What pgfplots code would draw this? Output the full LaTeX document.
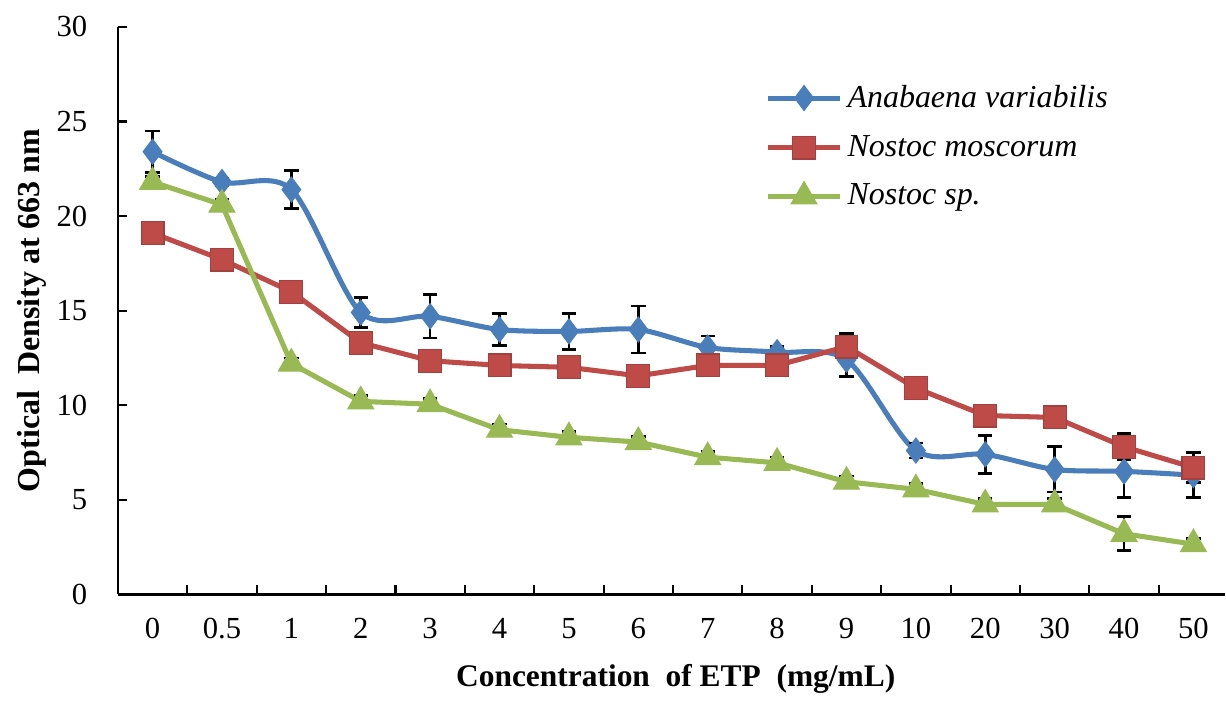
\documentclass[border=0pt]{standalone}
\usepackage{fontspec}
\setmainfont{Liberation Serif}
\usepackage{pgfplots}
\usepackage{pgfplotstable}
\pgfplotsset{compat=1.18}
\definecolor{cblue}{HTML}{4A7EBB}
\definecolor{cred}{HTML}{BE4B48}
\definecolor{cgreen}{HTML}{98B954}

\pgfplotstableread{
x y e
0 23.4 1.1
1 21.8 0.2
2 21.4 1.0
3 14.9 0.8
4 14.7 1.15
5 14.0 0.85
6 13.9 0.95
7 14.0 1.25
8 13.05 0.6
9 12.8 0.3
10 12.4 0.9
11 7.6 0.4
12 7.4 1.0
13 6.6 1.2
14 6.5 1.4
15 6.3 1.2
}\anabaena

\pgfplotstableread{
x y e
0 19.1 0.3
1 17.7 0.3
2 16.0 0.3
3 13.3 0.3
4 12.35 0.3
5 12.1 0.3
6 12.0 0.3
7 11.55 0.3
8 12.1 0.3
9 12.1 0.3
10 13.1 0.7
11 10.9 0.3
12 9.45 0.3
13 9.35 0.3
14 7.8 0.7
15 6.7 0.8
}\moscorum

\pgfplotstableread{
x y e
0 21.8 0.3
1 20.6 0.3
2 12.2 0.3
3 10.2 0.3
4 10.05 0.3
5 8.7 0.3
6 8.3 0.3
7 8.05 0.3
8 7.25 0.3
9 6.95 0.3
10 5.95 0.3
11 5.55 0.3
12 4.75 0.3
13 4.75 0.3
14 3.2 0.9
15 2.65 0.3
}\nostocsp

\begin{document}
\begin{tikzpicture}
\begin{axis}[
  scale only axis, width=415.5pt, height=213pt,
  xmin=-0.5, xmax=15.45, ymin=0, ymax=30,
  axis x line*=bottom, axis y line*=left,
  axis line style={line width=1pt, -},
  xtick={0,...,15},
  xticklabels={0,0.5,1,2,3,4,5,6,7,8,9,10,20,30,40,50},
  major x tick style={draw=none},
  minor xtick={0.5,1.5,...,14.5},
  minor tick length=3.5pt,
  ytick={0,5,...,30},
  major tick length=3.5pt,
  tick align=inside,
  tick style={black, line width=0.8pt},
  /pgf/number format/assume math mode=true,
  x tick label style={font=\fontsize{11.5}{13}\selectfont, yshift=-5.6pt},
  y tick label style={font=\fontsize{11.5}{13}\selectfont, xshift=-8pt},
  xlabel={\textbf{Concentration\ \ of ETP\ \ (mg/mL)}},
  xlabel style={at={(axis description cs:0.504,-0.15)}, anchor=center, font=\fontsize{11.8}{14}\selectfont},
  ylabel={\textbf{Optical\ \ Density at 663 nm}},
  ylabel style={at={(axis description cs:-0.078,0.5)}, anchor=center, font=\fontsize{12}{14}\selectfont},
  legend style={at={(axis description cs:0.585,0.908)}, anchor=north west, draw=none, fill=none,
    font=\itshape\fontsize{12}{14}\selectfont, row sep=5pt, inner sep=0pt},
  legend cell align=left,
  legend image code/.code={\draw[mark repeat=2,mark phase=2,#1] plot coordinates {(0cm,0cm)(0.47cm,0cm)(0.94cm,0cm)};},
]
\addplot[cblue, line width=1.9pt, smooth, tension=0.5, mark=diamond*, mark size=4.7pt,
  mark options={fill=cblue, draw=cblue, line width=0.4pt, solid},
  error bars/.cd, y dir=both, y explicit,
  error bar style={black, line width=1pt, solid},
  error mark options={black, rotate=90, mark size=2.7pt, line width=1pt}]
  table[x=x, y=y, y error=e] {\anabaena};
\addlegendentry{Anabaena variabilis}
\addplot[cred, line width=1.9pt, mark=square*, mark size=4.3pt,
  mark options={fill=cred, draw=cred!85!black, line width=0.4pt, solid},
  error bars/.cd, y dir=both, y explicit,
  error bar style={black, line width=1pt, solid},
  error mark options={black, rotate=90, mark size=2.7pt, line width=1pt}]
  table[x=x, y=y, y error=e] {\moscorum};
\addlegendentry{Nostoc moscorum}
\addplot[cgreen, line width=1.9pt, mark=triangle*, mark size=5.6pt,
  mark options={fill=cgreen, draw=cgreen, line width=0.4pt, solid},
  error bars/.cd, y dir=both, y explicit,
  error bar style={black, line width=1pt, solid},
  error mark options={black, rotate=90, mark size=2.7pt, line width=1pt}]
  table[x=x, y=y, y error=e] {\nostocsp};
\addlegendentry{Nostoc sp.}
\end{axis}
\path ([xshift=-44.25pt,yshift=-37.5pt]current axis.south west) rectangle ([yshift=10.1pt]current axis.north east);
\end{tikzpicture}
\end{document}
